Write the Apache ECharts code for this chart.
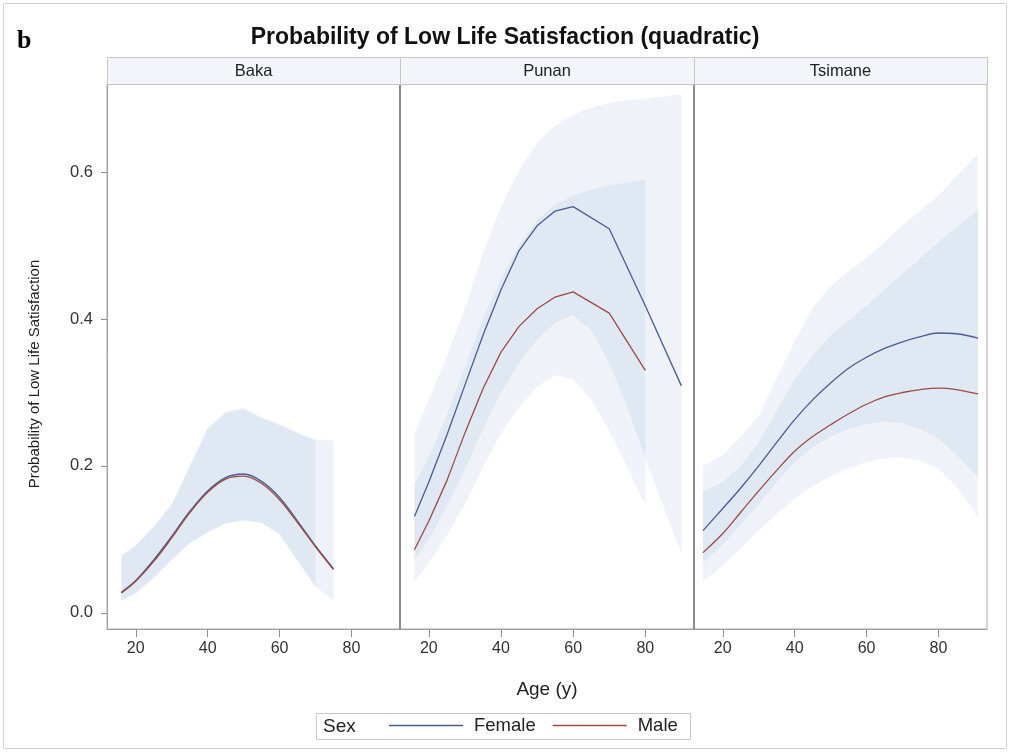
<!DOCTYPE html>
<html>
<head>
<meta charset="utf-8">
<script src="https://cdn.jsdelivr.net/npm/echarts@6/dist/echarts.min.js"></script>
<style>
  html, body { margin: 0; padding: 0; background: #fff; }
  #chart { width: 1010px; height: 755px; }
</style>
</head>
<body>
<div id="chart"></div>
<script>
// ---- data ----
const groups = ['Baka', 'Punan', 'Tsimane'];
const ageTicks = [20, 40, 60, 80];
const probTicks = [0, 0.2, 0.4, 0.6];

// Baka
const bakaAge = [16, 20, 25, 30, 35, 40, 45, 50, 55, 60, 65, 70, 75];
const bakaFemale = [0.028, 0.044, 0.072, 0.104, 0.138, 0.166, 0.184, 0.189, 0.179, 0.157, 0.125, 0.091, 0.060];
const bakaMale = [0.027, 0.043, 0.070, 0.102, 0.136, 0.164, 0.182, 0.186, 0.176, 0.154, 0.123, 0.090, 0.059];
const bakaFemaleBandAge = [16, 20, 25, 30, 35, 40, 45, 50, 55, 60, 65, 70, 75];
const bakaFemaleLower = [0.016, 0.026, 0.047, 0.072, 0.094, 0.109, 0.121, 0.126, 0.123, 0.108, 0.072, 0.036, 0.016];
const bakaFemaleUpper = [0.079, 0.092, 0.118, 0.148, 0.200, 0.252, 0.274, 0.279, 0.266, 0.257, 0.246, 0.236, 0.235];
const bakaMaleBandAge = [16, 20, 25, 30, 35, 40, 45, 50, 55, 60, 65, 70];
const bakaMaleLower = [0.017, 0.027, 0.048, 0.073, 0.095, 0.110, 0.122, 0.126, 0.122, 0.106, 0.070, 0.035];
const bakaMaleUpper = [0.077, 0.091, 0.117, 0.147, 0.198, 0.250, 0.272, 0.277, 0.265, 0.255, 0.244, 0.234];

// Punan
const punanFemaleAge = [16, 20, 25, 30, 35, 40, 45, 50, 55, 60, 70, 80, 90];
const punanFemale = [0.131, 0.178, 0.242, 0.310, 0.378, 0.440, 0.493, 0.527, 0.547, 0.553, 0.523, 0.418, 0.309];
const punanMaleAge = [16, 20, 25, 30, 35, 40, 45, 50, 55, 60, 70, 80];
const punanMale = [0.086, 0.125, 0.180, 0.245, 0.305, 0.355, 0.390, 0.414, 0.430, 0.437, 0.408, 0.330];
const punanFemaleBandAge = [16, 20, 25, 30, 35, 40, 45, 50, 55, 60, 65, 70, 75, 80, 85, 90];
const punanFemaleUpper = [0.245, 0.290, 0.350, 0.415, 0.490, 0.553, 0.603, 0.640, 0.663, 0.678, 0.688, 0.694, 0.698, 0.700, 0.703, 0.706];
const punanFemaleLower = [0.072, 0.100, 0.145, 0.195, 0.250, 0.300, 0.340, 0.372, 0.395, 0.405, 0.385, 0.340, 0.280, 0.210, 0.145, 0.080];
const punanMaleBandAge = [16, 20, 25, 30, 35, 40, 45, 50, 55, 60, 65, 70, 75, 80];
const punanMaleUpper = [0.175, 0.212, 0.270, 0.335, 0.400, 0.455, 0.500, 0.535, 0.556, 0.568, 0.576, 0.582, 0.586, 0.590];
const punanMaleLower = [0.042, 0.068, 0.105, 0.148, 0.198, 0.245, 0.280, 0.308, 0.323, 0.318, 0.290, 0.248, 0.198, 0.146];

// Tsimane
const tsimaneAge = [14.5, 20, 25, 30, 35, 40, 45, 50, 55, 60, 65, 70, 75, 80, 85, 91];
const tsimaneFemale = [0.112, 0.142, 0.170, 0.200, 0.232, 0.263, 0.290, 0.313, 0.333, 0.348, 0.360, 0.369, 0.376, 0.381, 0.380, 0.374];
const tsimaneMale = [0.082, 0.108, 0.137, 0.166, 0.194, 0.220, 0.240, 0.256, 0.271, 0.284, 0.294, 0.300, 0.304, 0.306, 0.304, 0.298];
const tsimaneFemaleUpper = [0.200, 0.215, 0.240, 0.268, 0.320, 0.370, 0.415, 0.445, 0.465, 0.483, 0.505, 0.528, 0.548, 0.568, 0.595, 0.625];
const tsimaneFemaleLower = [0.068, 0.093, 0.120, 0.148, 0.178, 0.205, 0.225, 0.240, 0.250, 0.257, 0.260, 0.258, 0.250, 0.237, 0.215, 0.185];
const tsimaneMaleUpper = [0.165, 0.178, 0.200, 0.232, 0.275, 0.318, 0.350, 0.378, 0.398, 0.418, 0.440, 0.462, 0.483, 0.505, 0.525, 0.548];
const tsimaneMaleLower = [0.042, 0.064, 0.088, 0.112, 0.135, 0.155, 0.172, 0.186, 0.197, 0.205, 0.210, 0.212, 0.207, 0.196, 0.172, 0.130];

// ---- layout & style ----
const FONT = '"Liberation Sans", Arial, sans-serif';
const FEMALE_COLOR = '#4b5a8f';
const MALE_COLOR = '#9c4b45';
const BAND_FILL = 'rgba(110,145,200,0.11)';
const panelLeft = [107, 400, 694];
const panelWidth = [293, 294, 293];
const plotTop = 84, plotBottom = 629;
const headerTop = 57;

const panels = [
  {
    female: [bakaAge, bakaFemale], male: [bakaAge, bakaMale], smooth: 0.35,
    bands: [[bakaFemaleBandAge, bakaFemaleLower, bakaFemaleUpper], [bakaMaleBandAge, bakaMaleLower, bakaMaleUpper]]
  },
  {
    female: [punanFemaleAge, punanFemale], male: [punanMaleAge, punanMale], smooth: false,
    bands: [[punanFemaleBandAge, punanFemaleLower, punanFemaleUpper], [punanMaleBandAge, punanMaleLower, punanMaleUpper]]
  },
  {
    female: [tsimaneAge, tsimaneFemale], male: [tsimaneAge, tsimaneMale], smooth: 0.35,
    bands: [[tsimaneAge, tsimaneFemaleLower, tsimaneFemaleUpper], [tsimaneAge, tsimaneMaleLower, tsimaneMaleUpper]]
  }
];

const pairs = (xs, ys) => xs.map((x, i) => [x, ys[i]]);

const grid = [], xAxis = [], yAxis = [], series = [];
panels.forEach((p, k) => {
  grid.push({
    left: panelLeft[k], width: panelWidth[k], top: plotTop, height: plotBottom - plotTop,
    show: true, borderColor: '#a8a8a8', borderWidth: 1, backgroundColor: 'transparent'
  });
  xAxis.push({
    type: 'value', gridIndex: k, min: 12, max: 93.5,
    axisLine: { show: true, onZero: false, lineStyle: { color: '#a0a0a0', width: 1 } },
    axisTick: { show: true, customValues: ageTicks, length: 8, lineStyle: { color: '#8f8f8f' } },
    axisLabel: { show: true, customValues: ageTicks, margin: 12, fontFamily: FONT, fontSize: 16, color: '#333' },
    splitLine: { show: false }
  });
  yAxis.push({
    type: 'value', gridIndex: k, min: -0.022, max: 0.72,
    axisLine: { show: true, onZero: false, lineStyle: { color: k === 0 ? '#a0a0a0' : '#8c8c8c', width: k === 0 ? 1 : 2 } },
    axisTick: { show: k === 0, customValues: probTicks, length: 6, lineStyle: { color: '#8f8f8f' } },
    axisLabel: {
      show: k === 0, customValues: probTicks, margin: 14, fontFamily: FONT, fontSize: 16.5, color: '#333',
      formatter: v => v.toFixed(1)
    },
    splitLine: { show: false }
  });

  // confidence bands
  p.bands.forEach((b, j) => {
    const [ages, lo, hi] = b;
    series.push({
      type: 'custom', name: (j === 0 ? 'Female' : 'Male') + ' band',
      xAxisIndex: k, yAxisIndex: k, z: 1, silent: true,
      data: ages.map((a, i) => [a, lo[i], hi[i]]),
      encode: { x: 0, y: [1, 2] },
      renderItem: (params, api) => {
        if (params.dataIndex !== 0) return null;
        const pts = [];
        for (let i = 0; i < ages.length; i++) pts.push(api.coord([ages[i], hi[i]]));
        for (let i = ages.length - 1; i >= 0; i--) pts.push(api.coord([ages[i], lo[i]]));
        return { type: 'polygon', shape: { points: pts }, style: { fill: BAND_FILL } };
      }
    });
  });

  // predicted probability curves
  [['Female', p.female, FEMALE_COLOR], ['Male', p.male, MALE_COLOR]].forEach(([name, d, color]) => {
    series.push({
      type: 'line', name, xAxisIndex: k, yAxisIndex: k, z: 3,
      data: pairs(d[0], d[1]), smooth: p.smooth, symbol: 'none', showSymbol: false,
      lineStyle: { color, width: 1.3 }, itemStyle: { color }
    });
  });
});

const graphic = [
  { type: 'rect', shape: { x: 3.5, y: 3.5, width: 1003, height: 745 }, style: { fill: 'none', stroke: '#d2d2d2', lineWidth: 1 }, z: 0 },
  { type: 'text', left: 17, top: 28, style: { text: 'b', font: 'bold 26px "Liberation Serif", "Times New Roman", serif', fill: '#000' } },
  // axis titles
  {
    type: 'text', x: 35, y: 374, rotation: Math.PI / 2,
    style: { text: 'Probability of Low Life Satisfaction', font: '15px ' + FONT, fill: '#222', textAlign: 'center', textVerticalAlign: 'middle' }
  },
  {
    type: 'text', x: 547, y: 690,
    style: { text: 'Age (y)', font: '19px ' + FONT, fill: '#222', textAlign: 'center', textVerticalAlign: 'middle' }
  }
];
// facet headers
groups.forEach((g, k) => {
  graphic.push({
    type: 'rect', shape: { x: panelLeft[k] + 0.5, y: headerTop + 0.5, width: panelWidth[k], height: plotTop - headerTop },
    style: { fill: '#f4f5fb', stroke: '#c6c6c6', lineWidth: 1 }, z: 1
  });
  graphic.push({
    type: 'text', x: panelLeft[k] + panelWidth[k] / 2, y: (headerTop + plotTop) / 2 + 1,
    style: { text: g, font: '16.5px ' + FONT, fill: '#222', textAlign: 'center', textVerticalAlign: 'middle' }, z: 2
  });
});
// legend frame and label
graphic.push({ type: 'rect', shape: { x: 316.5, y: 713.5, width: 374, height: 26 }, style: { fill: 'none', stroke: '#c8c8c8', lineWidth: 1 } });
graphic.push({ type: 'text', x: 323, y: 727, style: { text: 'Sex', font: '19px ' + FONT, fill: '#222', textVerticalAlign: 'middle' } });

const chart = echarts.init(document.getElementById('chart'), null, { renderer: 'canvas' });
chart.setOption({
  animation: false,
  backgroundColor: '#fff',
  title: {
    text: 'Probability of Low Life Satisfaction (quadratic)', left: 'center', top: 21,
    textStyle: { fontFamily: FONT, fontWeight: 'bold', fontSize: 23, color: '#111' }
  },
  legend: {
    data: ['Female', 'Male'], left: 389, top: 716, padding: 0,
    icon: 'path://M0,0H74V1.3H0Z',
    itemWidth: 74, itemHeight: 1.3, itemGap: 17,
    textStyle: { fontFamily: FONT, fontSize: 18.5, color: '#222', padding: [0, 0, 0, 6] }
  },
  grid, xAxis, yAxis, series, graphic
});
</script>
</body>
</html>
